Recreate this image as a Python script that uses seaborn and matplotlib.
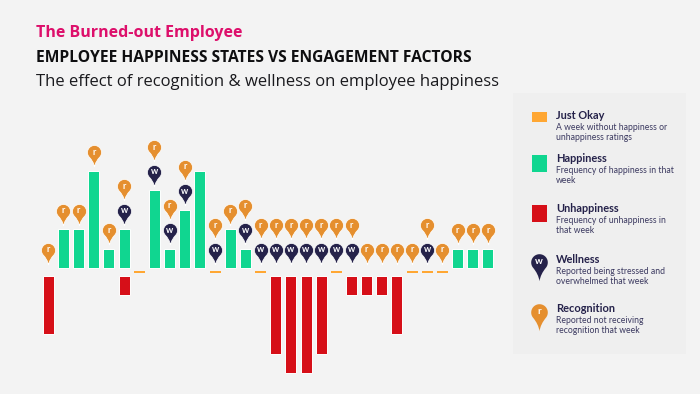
import numpy as np
import pandas as pd
import matplotlib
matplotlib.use("Agg")
import matplotlib.pyplot as plt
from matplotlib.path import Path
from matplotlib.patches import Rectangle
import seaborn as sns

# Weekly values
weeks = list(range(30))
happiness = [0, 2, 2, 5, 1, 2, 0, 4, 1, 3, 5, 0, 2, 1, 0,
             0, 0, 0, 0, 0, 0, 0, 0, 0, 0, 0, 0, 1, 1, 1]
unhappiness = [3, 0, 0, 0, 0, 1, 0, 0, 0, 0, 0, 0, 0, 0, 0,
               4, 5, 5, 4, 0, 1, 1, 1, 3, 0, 0, 0, 0, 0, 0]
just_okay = [0, 0, 0, 0, 0, 0, 1, 0, 0, 0, 0, 1, 0, 0, 1,
             0, 0, 0, 0, 1, 0, 0, 0, 0, 1, 1, 1, 0, 0, 0]
wellness = [0, 0, 0, 0, 0, 1, 0, 1, 1, 1, 0, 1, 0, 1, 1,
            1, 1, 1, 1, 1, 1, 0, 0, 0, 0, 1, 0, 0, 0, 0]
recognition = [1, 1, 1, 1, 1, 1, 0, 1, 1, 1, 0, 1, 1, 1, 1,
               1, 1, 1, 1, 1, 1, 1, 1, 1, 1, 1, 1, 1, 1, 1]

title_top = "The Burned-out Employee"
title_main = "EMPLOYEE HAPPINESS STATES VS ENGAGEMENT FACTORS"
title_sub = "The effect of recognition & wellness on employee happiness"

legend_titles = ["Just Okay", "Happiness", "Unhappiness", "Wellness", "Recognition"]
legend_lines = [
    ["A week without happiness or", "unhappiness ratings"],
    ["Frequency of happiness in that", "week"],
    ["Frequency of unhappiness in", "that week"],
    ["Reported being stressed and", "overwhelmed that week"],
    ["Reported not receiving", "recognition that week"],
]

BG = "#F3F3F3"
PANEL = "#EFEFEF"
GREEN = "#10D690"
RED = "#D60F18"
AMBER = "#FFA733"
NAVY = "#25224A"
ORANGE = "#E58F2F"
PINK = "#DD0F6B"

W, H = 700, 394
X0, DX = 48.3, 15.16   # pixel of week 0, pixels per week
Y0, DY = 268.3, 19.5   # pixel of value 0, pixels per unit


def make_pin(r=7.0, tip=14.5):
    # head circle with a concave taper down to the tip
    a = np.radians(np.linspace(-35, 215, 60))
    head = np.column_stack([r * np.cos(a), r * np.sin(a)])
    verts = list(head) + [(-r * 0.12, -tip * 0.62), (0, -tip),
                          (r * 0.12, -tip * 0.62), tuple(head[0]), tuple(head[0])]
    codes = [Path.MOVETO] + [Path.LINETO] * 59 + [Path.CURVE3, Path.CURVE3,
                                                  Path.CURVE3, Path.CURVE3, Path.CLOSEPOLY]
    return Path(verts, codes)


sns.set_theme(style="white")
plt.rcParams["font.family"] = ["Lato", "DejaVu Sans"]

fig = plt.figure(figsize=(W / 100, H / 100), dpi=100, facecolor=BG)
ax = fig.add_axes([0, 0, 1, 1])

df = pd.DataFrame({"week": weeks, "happy": happiness, "unhappy": unhappiness,
                   "okay": just_okay, "well": wellness, "recog": recognition})

bar_kw = dict(x="week", native_scale=True, width=0.725, saturation=1,
              errorbar=None, edgecolor="white", linewidth=0.7, ax=ax)

sns.barplot(data=df[df.happy > 0], y="happy", color=GREEN, **bar_kw)

down = df[df.unhappy > 0].assign(h=lambda d: -d.unhappy)
sns.barplot(data=down, y="h", color=RED, bottom=-0.38, **bar_kw)

oks = df[df.okay > 0].assign(h=lambda d: d.okay * 0.12)
sns.barplot(data=oks, y="h", color=AMBER, bottom=-0.25, x="week", native_scale=True,
            width=0.725, saturation=1, errorbar=None, linewidth=0, ax=ax)

# pins stack up from the top of the green bar
df["well_y"] = df.happy + 0.95
df["recog_y"] = df.happy + 0.95 + df.well * 1.27
pin_kw = dict(x="week", marker=make_pin(), s=436, edgecolor="white", linewidth=0.5,
              legend=False, zorder=4, ax=ax)
sns.scatterplot(data=df[df.well > 0], y="well_y", color=NAVY, **pin_kw)
sns.scatterplot(data=df[df.recog > 0], y="recog_y", color=ORANGE, **pin_kw)

for _, row in df[df.well > 0].iterrows():
    ax.text(row.week, row.well_y, "w", color="white", fontsize=6.5, fontweight="bold",
            ha="center", va="center", zorder=5)
for _, row in df[df.recog > 0].iterrows():
    ax.text(row.week, row.recog_y, "r", color="white", fontsize=6.5, fontweight="bold",
            ha="center", va="center", zorder=5)

ax.set_xlim(-X0 / DX, (W - X0) / DX)
ax.set_ylim(-(H - Y0) / DY, Y0 / DY)
ax.axis("off")

# Overlay in picture pixels for titles and the legend panel
ov = fig.add_axes([0, 0, 1, 1], facecolor="none")
ov.set_xlim(0, W)
ov.set_ylim(H, 0)
ov.axis("off")

ov.text(36, 33, title_top, color=PINK, fontsize=11.55, fontweight="bold",
        family="Open Sans", va="center")
ov.text(36, 57.5, title_main, color="#0E0E10", fontsize=11.25, fontweight="bold",
        family="Open Sans", va="center")
ov.text(36, 81.5, title_sub, color="#1A1A1E", fontsize=12.0,
        family="Open Sans", va="center")

ov.add_patch(Rectangle((512.7, 92.7), 173.3, 261.3, facecolor=PANEL, edgecolor="none"))

ov.add_patch(Rectangle((532.3, 112.3), 14.4, 9.7, facecolor=AMBER, edgecolor="none"))
ov.add_patch(Rectangle((532.3, 155), 14.4, 16.7, facecolor=GREEN, edgecolor="none"))
ov.add_patch(Rectangle((532.3, 205), 14.4, 17, facecolor=RED, edgecolor="none"))

for y, col, letter in [(261.7, NAVY, "w"), (311.7, ORANGE, "r")]:
    ov.scatter([539.3], [y], marker=make_pin(8.3, 18.7), s=725, color=col, linewidths=0)
    ov.text(539.3, y, letter, color="white", fontsize=7, fontweight="bold",
            ha="center", va="center")

head_y = [115.7, 158.7, 208.7, 259.7, 308.7]
for y, name, lines in zip(head_y, legend_titles, legend_lines):
    ov.text(556, y, name, color=NAVY, fontsize=7.9, fontweight="bold", va="center")
    ov.text(556, y + 12, lines[0], color="#3B3960", fontsize=6.2, va="center")
    ov.text(556, y + 22, lines[1], color="#3B3960", fontsize=6.2, va="center")

fig.savefig("out.png", dpi=100, facecolor=BG)
